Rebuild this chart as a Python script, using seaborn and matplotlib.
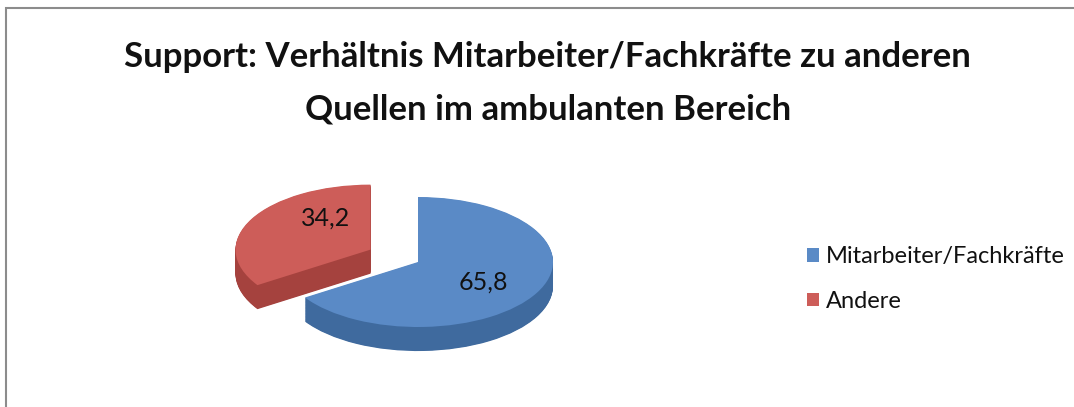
import numpy as np
import seaborn as sns
import matplotlib.pyplot as plt
from matplotlib.patches import Rectangle

# data
categories = ['Mitarbeiter/Fachkräfte', 'Andere']
values = [65.8, 34.2]
explode = [0, 0.4]
top_colors = ['#5A8AC6', '#CD5D59']
side_colors = ['#3F6A9E', '#A5423E']
title = 'Support: Verhältnis Mitarbeiter/Fachkräfte zu anderen\nQuellen im ambulanten Bereich'

sns.set_theme(style='white')
plt.rcParams['font.family'] = ['Lato', 'DejaVu Sans']

W, H = 1074, 407
fig = plt.figure(figsize=(W / 100, H / 100), dpi=100)

# axes sized so that radius 1 -> 135 px wide, 65 px tall (flattened 3D look)
rx, ry = 135, 65
cx, cy = 418, 262
ax = fig.add_axes([(cx - 2 * rx) / W, (H - cy - 2 * ry) / H, 4 * rx / W, 4 * ry / H])

depth = 0.37
n_layers = 40
for k in range(n_layers, 0, -1):
    ax.pie(values, explode=explode, colors=side_colors, startangle=90,
           counterclock=False, center=(0, -depth * k / n_layers),
           wedgeprops=dict(linewidth=0, antialiased=True))

wedges, texts, autotexts = ax.pie(
    values, explode=explode, colors=top_colors, startangle=90,
    counterclock=False, autopct=lambda p: f'{p:.1f}'.replace('.', ','),
    pctdistance=0.55, textprops=dict(fontsize=18, color='#111111'),
    wedgeprops=dict(linewidth=0))

# nudge the small slice label towards the back of the tilted slice
x, y = autotexts[1].get_position()
autotexts[1].set_position((x + 0.15, y + 0.22))
x, y = autotexts[0].get_position()
autotexts[0].set_position((x, y - 0.05))

ax.set_aspect('auto')
ax.set_xlim(-2, 2)
ax.set_ylim(-2, 2)
ax.axis('off')

fig.text(0.51, 1 - 57 / H, title.split('\n')[0], ha='center', va='center',
         fontsize=25, fontweight='bold', color='#111111')
fig.text(0.51, 1 - 110 / H, title.split('\n')[1], ha='center', va='center',
         fontsize=25, fontweight='bold', color='#111111')

fig.legend(wedges, categories, loc='upper left',
           bbox_to_anchor=(786 / W, 1 - 225 / H), frameon=False,
           fontsize=17, handlelength=0.5, handleheight=0.5,
           handletextpad=0.3, labelspacing=1.0, labelcolor='#111111')

# chart frame (only the top and left edges fall inside the picture)
fig.patches.append(Rectangle((6 / W, -0.1), 1.2, 1 - 8 / H + 0.1,
                             transform=fig.transFigure, fill=False,
                             edgecolor='#8C8C8C', linewidth=1.5))

fig.savefig('out.png', dpi=100, facecolor='white')
